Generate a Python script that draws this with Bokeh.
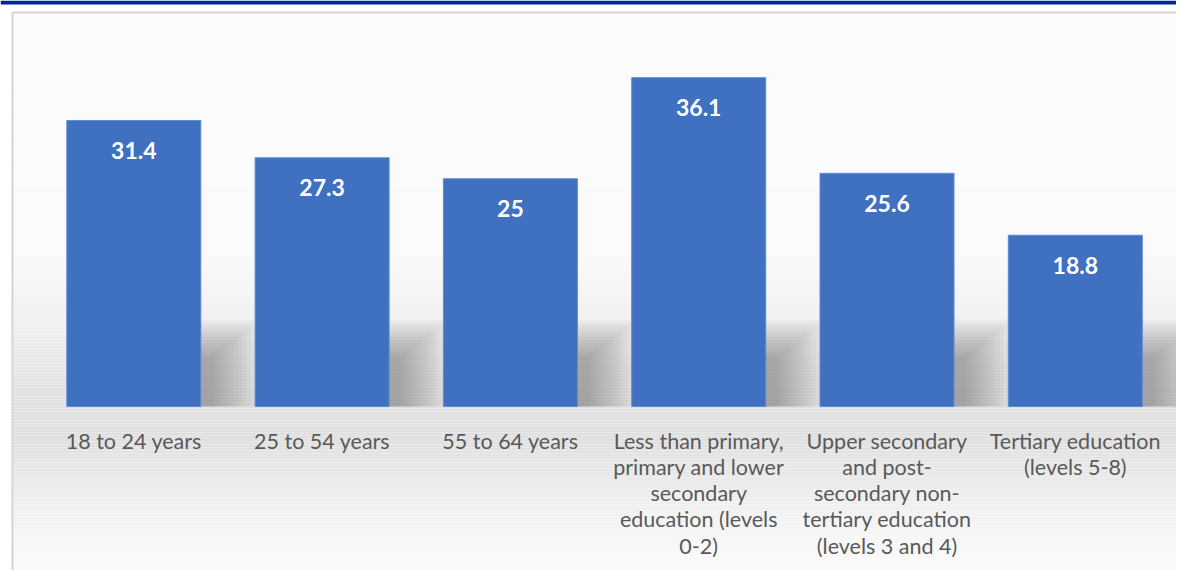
from bokeh.plotting import figure
from bokeh.models import Range1d, ColumnDataSource
from bokeh.core.properties import value
from bokeh.embed import file_html
from bokeh.resources import INLINE

# ---- data ----
categories = [
    "18 to 24 years",
    "25 to 54 years",
    "55 to 64 years",
    "Less than primary,\nprimary and lower\nsecondary\neducation (levels\n0-2)",
    "Upper secondary\nand post-\nsecondary non-\ntertiary education\n(levels 3 and 4)",
    "Tertiary education\n(levels 5-8)",
]
values = [31.4, 27.3, 25, 36.1, 25.6, 18.8]
value_labels = ["31.4", "27.3", "25", "36.1", "25.6", "18.8"]

W, H = 1176, 570
xs = list(range(len(categories)))

p = figure(width=W, height=H, output_backend="svg", toolbar_location=None,
           x_range=Range1d(-0.708, 5.5374), y_range=Range1d(-18.0, 44.57),
           min_border=0, min_border_left=0, min_border_right=0,
           min_border_top=0, min_border_bottom=0)
p.extra_x_ranges = {"px": Range1d(0, W)}
p.extra_y_ranges = {"px": Range1d(H, 0)}
p.axis.visible = False
p.xgrid.visible = False
p.ygrid.visible = False
p.outline_line_color = None
p.background_fill_color = "white"
p.border_fill_color = "white"

# ---- background gradient (pixel coordinates) ----
stops = [(12, 252), (250, 250), (320, 240), (390, 226), (440, 224),
         (485, 235), (530, 245), (578, 251)]
def gray_at(y):
    for (y0, g0), (y1, g1) in zip(stops[:-1], stops[1:]):
        if y0 <= y <= y1:
            t = (y - y0) / (y1 - y0)
            return g0 + (g1 - g0) * t
    return stops[-1][1]
top_, bot_, col_ = [], [], []
y = 12
while y < H:
    g = int(round(gray_at(y + 1.5)))
    top_.append(y); bot_.append(y + 3)
    col_.append("#%02x%02x%02x" % (g, g, g))
    y += 3
p.quad(left=13, right=W, top=top_, bottom=bot_, fill_color=col_,
       line_color=None, x_range_name="px", y_range_name="px")
# chart box border
p.segment(x0=[12, 12], y0=[12, 12], x1=[12, W], y1=[H, 12],
          line_color="#d4d4d4", line_width=2, x_range_name="px", y_range_name="px")
# title band (title itself is cut off above the picture)
p.quad(left=0, right=W, top=0, bottom=4, fill_color="#00279A", line_color=None,
       x_range_name="px", y_range_name="px")

# ---- bar shadows ----
bw = 0.7117
n_layers = 12
for k in range(n_layers):
    t = k / (n_layers - 1)
    w_px = 58 - 46 * t
    h = 9.5 - 4.0 * t
    p.quad(left=[x + bw / 2 - 2 / 188.3 for x in xs],
           right=[x + bw / 2 + w_px / 188.3 for x in xs],
           bottom=0, top=[min(h, v) for v in values],
           fill_color="#3a3a3a", fill_alpha=0.034, line_color=None)

# ---- bars ----
src = ColumnDataSource(dict(x=xs, top=values, lab=value_labels, cat=categories))
p.vbar(x="x", top="top", bottom=0, width=bw, source=src,
       fill_color="#4070C0", line_color="#5d8bd6", line_width=1)

p.text(x="x", y="top", text="lab", source=src, y_offset=30,
       text_align="center", text_baseline="middle",
       text_font=value("Lato"), text_font_style="bold",
       text_font_size="23px", text_color="white")

p.text(x="x", y=0, text="cat", source=src, y_offset=21,
       text_align="center", text_baseline="top",
       text_font=value("Lato"), text_font_size="21.5px",
       text_line_height=1.01, text_color="#595959")

open("out.html", "w").write(file_html(p, INLINE))
